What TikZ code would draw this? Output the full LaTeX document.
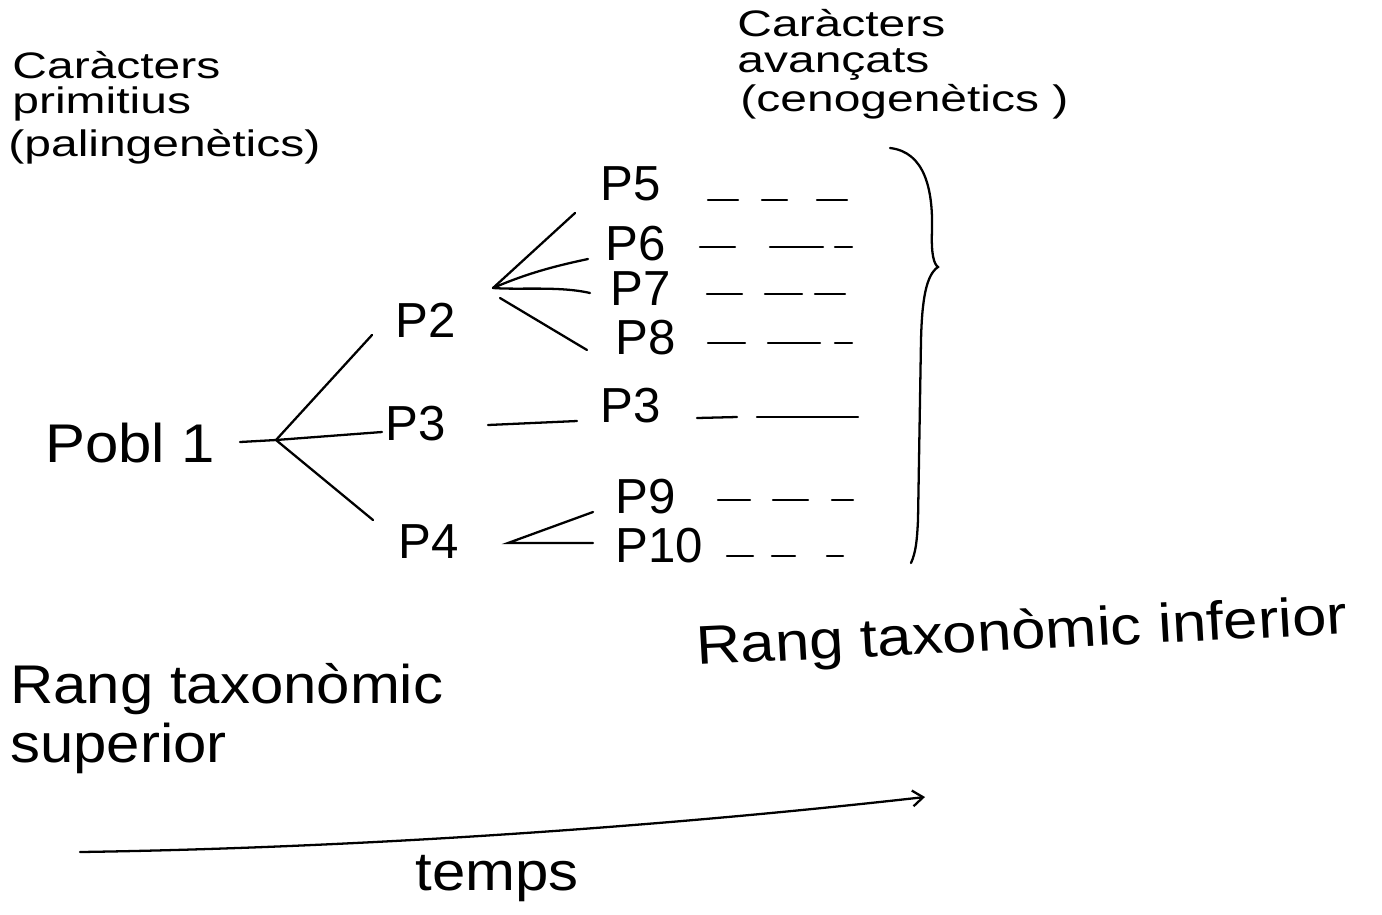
\documentclass[tikz,border=0pt]{standalone}
\usepackage{fontspec}
\setmainfont{Liberation Sans}
\usetikzlibrary{arrows.meta}
\tikzset{
  lbl/.style={inner sep=0pt, anchor=base west},
  topl/.style={lbl, font=\fontsize{21}{21}\selectfont, xscale=1.3},
  pl/.style={lbl, font=\fontsize{28}{28}\selectfont},
  big/.style={lbl, font=\fontsize{31}{31}\selectfont, xscale=1.1},
  stroke/.style={line width=1.3pt, line cap=round},
  dsh/.style={line width=1.3pt, line cap=round},
}
\begin{document}
\begin{tikzpicture}[x=0.02cm, y=-0.02cm]
\useasboundingbox (0,0) rectangle (1382,914);
% top left
\node[topl] (cl1) at (12,78) {Caràcters};
\node[topl] (cl2) at (12,113) {primitius};
\node[topl] (cl3) at (8,156) {(palingenètics)};
% top right
\node[topl] (cr1) at (737,36) {Caràcters};
\node[topl] (cr2) at (737,72) {avançats};
\node[topl] (cr3) at (740,111) {(cenogenètics )};
% tree nodes
\node[big] (p1) at (45,462) {Pobl 1};
\node[pl] (p2) at (395,337) {P2};
\node[pl] (p3a) at (385,440) {P3};
\node[pl] (p4) at (398,558) {P4};
\node[pl] (p5) at (600,200) {P5};
\node[pl] (p6) at (605,260) {P6};
\node[pl] (p7) at (610,305) {P7};
\node[pl] (p8) at (615,354) {P8};
\node[pl] (p3b) at (600,422) {P3};
\node[pl] (p9) at (615,513) {P9};
\node[pl] (p10) at (615,562) {P10};
% fork coordinates and line ends
\coordinate (s1) at (240,442);
\coordinate (f1) at (276,440);
\coordinate (e2) at (372,335);
\coordinate (e3) at (382,432);
\coordinate (e4) at (373,520);
\coordinate (f2) at (493,288);
\coordinate (e5) at (575,213);
\coordinate (e6) at (588,259);
\coordinate (e7) at (590,293);
\coordinate (e8) at (587,350);
\coordinate (g3) at (488,425);
\coordinate (h3) at (577,421);
\coordinate (f4) at (508,543);
\coordinate (e9) at (593,512);
\coordinate (e10) at (593,543);
\draw[stroke] (s1) -- (f1) -- (e3);
\draw[stroke] (f1) -- (e2);
\draw[stroke] (f1) -- (e4);
\draw[stroke] (f2) -- (e5);
\draw[stroke] (f2) .. controls (530,272) and (560,265) .. (e6);
\draw[stroke] (f2) .. controls (520,290) and (560,286) .. (e7);
\draw[stroke] (500,298) -- (e8);
\draw[stroke] (g3) -- (h3);
\draw[stroke] (e9) -- (f4) -- (e10);
% dashes
\foreach \y/\a/\b/\c/\d/\e/\f in {
  200/708/738/762/787/817/847,
  247/700/735/770/823/835/852,
  294/707/742/765/802/815/845,
  343/708/745/768/820/835/852,
  500/718/750/773/808/832/853,
  556/727/753/772/795/827/843}{
  \draw[dsh] (\a,\y) -- (\b,\y);
  \draw[dsh] (\c,\y) -- (\d,\y);
  \draw[dsh] (\e,\y) -- (\f,\y);
}
\draw[dsh] (697,418) -- (737,417);
\draw[dsh] (757,417) -- (858,417);
% brace
\draw[stroke] (890,148) .. controls (925,152) and (933,190) .. (932,230)
  .. controls (931,255) and (934,264) .. (938,267)
  .. controls (926,275) and (922,300) .. (921,340)
  -- (918,520) .. controls (917,540) and (916,552) .. (911,563);
% bottom labels
\node[big, rotate=3, xscale=1.03] (ri) at (697,665) {Rang taxonòmic inferior};
\node[big] (rs1) at (10,703) {Rang taxonòmic};
\node[big] (rs2) at (10,762) {superior};
% time arrow
\coordinate (t0) at (80,852);
\coordinate (t1) at (925,797);
\draw[stroke, -{Straight Barb[length=6pt,width=9pt]}] (t0) .. controls (350,848) and (650,828) .. (t1);
\node[big] (tm) at (415,890) {temps};
\end{tikzpicture}
\end{document}
